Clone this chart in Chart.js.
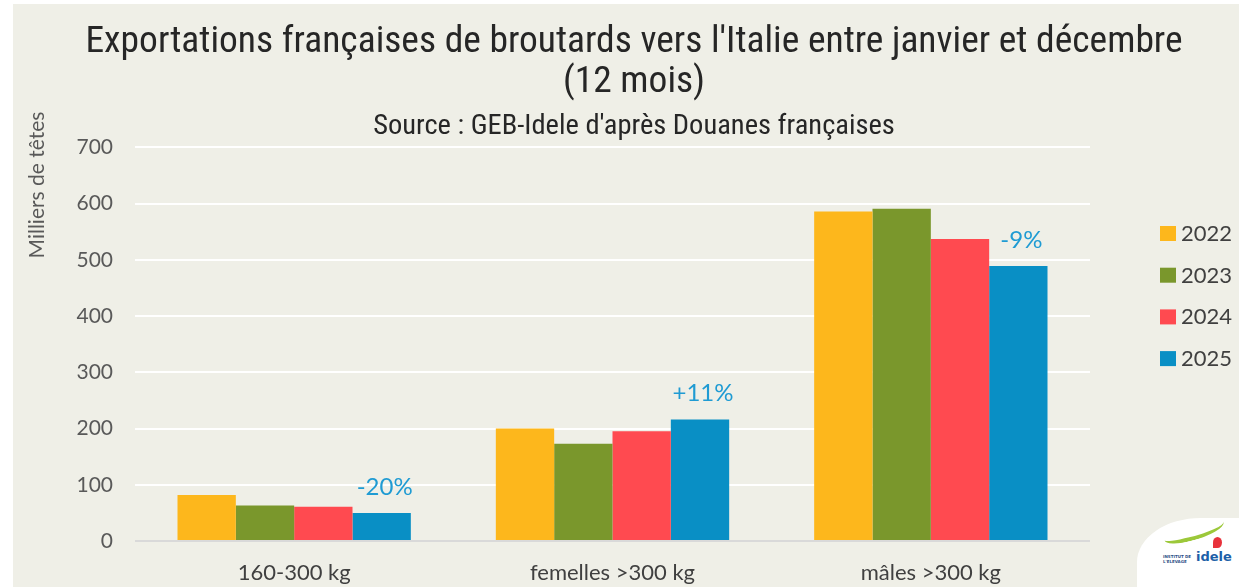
<!DOCTYPE html>
<html lang="fr">
<head>
<meta charset="utf-8">
<title>Exportations françaises de broutards vers l'Italie</title>
<script src="https://cdn.jsdelivr.net/npm/chart.js@4.4.1/dist/chart.umd.min.js"></script>
<style>
  html, body { margin: 0; padding: 0; background: #fff; }
  #panel { position: absolute; left: 13px; top: 4px; width: 1226px; height: 583px; background: #efefe7; overflow: hidden; }
  #logo { position: absolute; left: 1124px; top: 514px; width: 120px; height: 80px; background: #fff;
          border-top-left-radius: 64px 44px; }
  #logo .swoosh { position: absolute; left: 26px; top: 4px; width: 62px; height: 14px; border-bottom: 4px solid #9cc83a;
                  border-radius: 0 0 60% 40%; transform: rotate(-14deg); }
  #logo .drop { position: absolute; left: 76px; top: 19px; width: 9px; height: 11px; background: #e8323c;
                border-radius: 50% 50% 50% 0; }
  #logo .small { position: absolute; left: 26px; top: 36px; font: bold 4px "DejaVu Sans"; color: #2d4f86; line-height: 5px; }
  #logo .name { position: absolute; left: 59px; top: 31px; font: bold 13px "DejaVu Sans"; color: #1d5fa8; }
</style>
</head>
<body>
<div id="panel">
  <canvas id="chart" width="1226" height="583"></canvas>
  <div id="logo"><div class="swoosh"></div><div class="drop"></div><div class="small">INSTITUT DE<br>L'ELEVAGE</div><div class="name">idele</div></div>
</div>
<script>
const categories = ["160-300 kg", "femelles >300 kg", "mâles >300 kg"];
const years = ["2022", "2023", "2024", "2025"];
const values2022 = [82, 200, 586];
const values2023 = [63, 173, 591];
const values2024 = [61, 195, 537];
const values2025 = [50, 216, 489];
const variations = ["-20%", "+11%", "-9%"];
const yMin = 0;
const yMax = 700;
const yStep = 100;

const colors = ["#fdb71c", "#7a972c", "#ff4a50", "#098fc5"];
const series = [values2022, values2023, values2024, values2025];

// axis title sits high on the left, not centred on the axis
const yTitlePlugin = {
  id: "yTitle",
  afterDraw(chart) {
    const ctx = chart.ctx;
    ctx.save();
    ctx.translate(24, 181);
    ctx.rotate(-Math.PI / 2);
    ctx.font = "21px Lato";
    ctx.fillStyle = "#595959";
    ctx.textAlign = "center";
    ctx.textBaseline = "middle";
    ctx.fillText("Milliers de têtes", 0, 0);
    ctx.restore();
  }
};

// percentage change 2025 vs 2024, above the last bar of each group
const variationPlugin = {
  id: "variations",
  afterDatasetsDraw(chart) {
    const meta = chart.getDatasetMeta(3);
    const ctx = chart.ctx;
    ctx.save();
    ctx.font = "24px Lato";
    ctx.fillStyle = "#1f9bd3";
    ctx.textAlign = "center";
    ctx.textBaseline = "middle";
    meta.data.forEach((bar, i) => {
      ctx.fillText(variations[i], bar.x + 3, bar.y - 26);
    });
    ctx.restore();
  }
};

// legend drawn on the right, in the space kept free by the "gap" axis
const sideLegendPlugin = {
  id: "sideLegend",
  afterDraw(chart) {
    const ctx = chart.ctx;
    ctx.save();
    ctx.font = "22px Lato";
    ctx.textBaseline = "middle";
    chart.data.datasets.forEach((ds, i) => {
      const y = 229 + i * 41.7;
      ctx.fillStyle = ds.backgroundColor;
      ctx.fillRect(1147, y - 7, 16, 15);
      ctx.fillStyle = "#404040";
      ctx.fillText(ds.label, 1168, y + 1);
    });
    ctx.restore();
  }
};

new Chart(document.getElementById("chart"), {
  type: "bar",
  data: {
    labels: categories,
    datasets: years.map((year, i) => ({
      label: year,
      data: series[i],
      backgroundColor: colors[i],
      borderWidth: 0,
      barPercentage: 1,
      categoryPercentage: 0.733
    }))
  },
  options: {
    responsive: false,
    animation: false,
    layout: { padding: { left: 16, right: 0, top: 0, bottom: 3 } },
    scales: {
      x: {
        grid: { display: false, drawTicks: false },
        border: { display: false },
        ticks: { font: { family: "Lato", size: 22 }, color: "#404040", padding: 19 },
        afterFit(scale) { scale.height = 43; }
      },
      y: {
        min: yMin,
        max: yMax,
        ticks: { stepSize: yStep, font: { family: "Lato", size: 21 }, color: "#595959", padding: 22 },
        grid: {
          color: (c) => (c.tick && c.tick.value === 0 ? "#d9d9d9" : "#ffffff"),
          lineWidth: 2,
          drawTicks: false
        },
        border: { display: false },
        afterFit(scale) { scale.width = 106; }
      },
      // empty axis, only keeps room for the legend on the right
      gap: {
        type: "linear",
        position: "right",
        grid: { display: false, drawTicks: false },
        ticks: { display: false },
        border: { display: false },
        afterFit(scale) { scale.width = 149; }
      }
    },
    plugins: {
      legend: { display: false },
      tooltip: { enabled: false },
      title: {
        display: true,
        text: ["Exportations françaises de broutards vers l'Italie entre janvier et décembre", "(12 mois)"],
        font: { family: "'Roboto Condensed'", size: 37.5, weight: "normal", lineHeight: 1.08 },
        color: "#262626",
        padding: { top: 18, bottom: 8 }
      },
      subtitle: {
        display: true,
        text: "Source : GEB-Idele d'après Douanes françaises",
        font: { family: "'Roboto Condensed'", size: 28.5, lineHeight: 1.1 },
        color: "#262626",
        padding: { top: 0, bottom: 5 }
      }
    }
  },
  plugins: [yTitlePlugin, variationPlugin, sideLegendPlugin]
});
</script>
</body>
</html>
